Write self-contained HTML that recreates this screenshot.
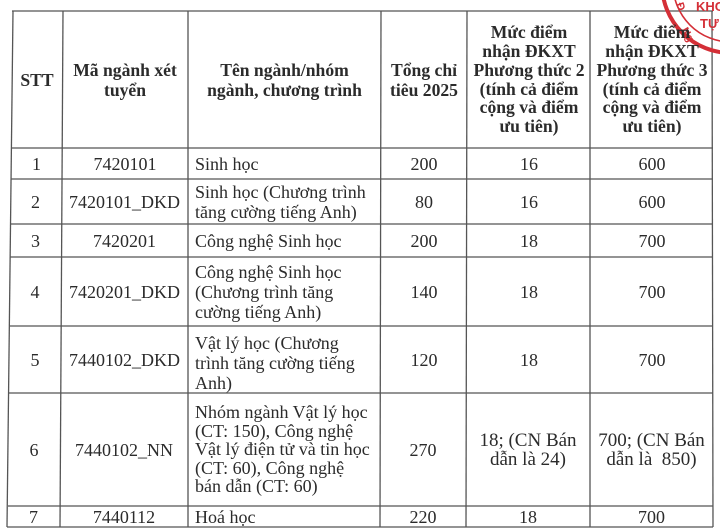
<!DOCTYPE html>
<html>
<head>
<meta charset="utf-8">
<style>
  html,body{margin:0;padding:0;background:#fff;}
  body{width:720px;height:530px;position:relative;overflow:hidden;
       font-family:"Liberation Serif","Noto Serif CJK SC",serif;color:#2b2b2b;}
  .c{position:absolute;display:flex;align-items:center;justify-content:center;
     text-align:center;font-size:18px;line-height:20px;box-sizing:border-box;}
  .l{justify-content:flex-start;text-align:left;padding-left:7px;}
  .h{font-weight:bold;font-size:17.6px;}
  .t{filter:blur(0.25px);}
</style>
</head>
<body>
<svg width="720" height="530" style="position:absolute;left:0;top:0" xmlns="http://www.w3.org/2000/svg">
  <g stroke="#555" stroke-width="1.3" fill="none">
    <line x1="12" y1="11" x2="713" y2="11"/>
    <line x1="11" y1="148" x2="713" y2="148"/>
    <line x1="11" y1="179" x2="713" y2="179"/>
    <line x1="10" y1="224" x2="713" y2="224"/>
    <line x1="10" y1="257" x2="713" y2="257"/>
    <line x1="9" y1="326" x2="713" y2="326"/>
    <line x1="9" y1="393" x2="713" y2="393"/>
    <line x1="8" y1="506" x2="713" y2="506"/>
    <line x1="7" y1="527" x2="713" y2="527"/>
    <line x1="13" y1="11" x2="7" y2="527"/>
    <line x1="63" y1="11" x2="60" y2="527"/>
    <line x1="188" y1="11" x2="188" y2="527"/>
    <line x1="381" y1="11" x2="380" y2="527"/>
    <line x1="467" y1="11" x2="466" y2="527"/>
    <line x1="590" y1="11" x2="590" y2="527"/>
    <line x1="712" y1="11" x2="713" y2="527"/>
  </g>
  <g stroke="#d42f37" fill="none">
    <circle cx="731" cy="-16" r="69" stroke-width="4"/>
    <circle cx="731" cy="-16" r="58" stroke-width="1.6"/>
  </g>
  <g fill="#d42f37" font-family="Liberation Sans, sans-serif" font-weight="bold">
    <text x="696" y="11" font-size="13">KHO</text>
    <text x="700" y="28" font-size="13">TỰ</text>
    <text x="0" y="0" font-size="11" transform="translate(681,30) rotate(60)">Ng</text>
    <text x="0" y="0" font-size="11" transform="translate(676,4) rotate(70)">Đ</text>
  </g>
</svg>

<div class="t">
<div class="c h" style="left:12px;top:11px;width:50px;height:137px;">STT</div>
<div class="c h" style="left:62px;top:11px;width:126px;height:137px;">Mã ngành xét<br>tuyển</div>
<div class="c h" style="left:188px;top:11px;width:193px;height:137px;">Tên ngành/nhóm<br>ngành, chương trình</div>
<div class="c h" style="left:381px;top:11px;width:86px;height:137px;">Tổng chỉ<br>tiêu 2025</div>
<div class="c h" style="left:467px;top:11px;width:124px;height:137px;line-height:18.8px;">Mức điểm<br>nhận ĐKXT<br>Phương thức 2<br>(tính cả điểm<br>cộng và điểm<br>ưu tiên)</div>
<div class="c h" style="left:591px;top:11px;width:122px;height:137px;line-height:18.8px;">Mức điểm<br>nhận ĐKXT<br>Phương thức 3<br>(tính cả điểm<br>cộng và điểm<br>ưu tiên)</div>

<div class="c" style="left:11px;top:148px;width:51px;height:31px;">1</div>
<div class="c" style="left:62px;top:148px;width:126px;height:31px;">7420101</div>
<div class="c l" style="left:188px;top:148px;width:193px;height:31px;">Sinh học</div>
<div class="c" style="left:381px;top:148px;width:86px;height:31px;">200</div>
<div class="c" style="left:467px;top:148px;width:124px;height:31px;">16</div>
<div class="c" style="left:591px;top:148px;width:122px;height:31px;">600</div>

<div class="c" style="left:10px;top:179px;width:51px;height:45px;">2</div>
<div class="c" style="left:61px;top:179px;width:127px;height:45px;">7420101_DKD</div>
<div class="c l" style="left:188px;top:179px;width:193px;height:45px;">Sinh học (Chương trình<br>tăng cường tiếng Anh)</div>
<div class="c" style="left:381px;top:179px;width:86px;height:45px;">80</div>
<div class="c" style="left:467px;top:179px;width:124px;height:45px;">16</div>
<div class="c" style="left:591px;top:179px;width:122px;height:45px;">600</div>

<div class="c" style="left:10px;top:224px;width:51px;height:33px;">3</div>
<div class="c" style="left:61px;top:224px;width:127px;height:33px;">7420201</div>
<div class="c l" style="left:188px;top:224px;width:193px;height:33px;">Công nghệ Sinh học</div>
<div class="c" style="left:381px;top:224px;width:86px;height:33px;">200</div>
<div class="c" style="left:467px;top:224px;width:124px;height:33px;">18</div>
<div class="c" style="left:591px;top:224px;width:122px;height:33px;">700</div>

<div class="c" style="left:9px;top:257px;width:52px;height:69px;">4</div>
<div class="c" style="left:61px;top:257px;width:127px;height:69px;">7420201_DKD</div>
<div class="c l" style="left:188px;top:257px;width:193px;height:69px;">Công nghệ Sinh học<br>(Chương trình tăng<br>cường tiếng Anh)</div>
<div class="c" style="left:381px;top:257px;width:86px;height:69px;">140</div>
<div class="c" style="left:467px;top:257px;width:124px;height:69px;">18</div>
<div class="c" style="left:591px;top:257px;width:122px;height:69px;">700</div>

<div class="c" style="left:9px;top:326px;width:52px;height:67px;">5</div>
<div class="c" style="left:61px;top:326px;width:127px;height:67px;">7440102_DKD</div>
<div class="c l" style="left:188px;top:329px;width:193px;height:67px;">Vật lý học (Chương<br>trình tăng cường tiếng<br>Anh)</div>
<div class="c" style="left:381px;top:326px;width:86px;height:67px;">120</div>
<div class="c" style="left:467px;top:326px;width:124px;height:67px;">18</div>
<div class="c" style="left:591px;top:326px;width:122px;height:67px;">700</div>

<div class="c" style="left:8px;top:393px;width:52px;height:113px;">6</div>
<div class="c" style="left:60px;top:393px;width:128px;height:113px;">7440102_NN</div>
<div class="c l" style="left:188px;top:393px;width:193px;height:113px;line-height:18.4px;">Nhóm ngành Vật lý học<br>(CT: 150), Công nghệ<br>Vật lý điện tử và tin học<br>(CT: 60), Công nghệ<br>bán dẫn (CT: 60)</div>
<div class="c" style="left:380px;top:393px;width:86px;height:113px;">270</div>
<div class="c" style="left:466px;top:393px;width:124px;height:113px;line-height:19px;font-size:19px;">18; (CN Bán<br>dẫn là 24)</div>
<div class="c" style="left:590px;top:393px;width:123px;height:113px;line-height:19px;font-size:19px;">700; (CN Bán<br>dẫn là&nbsp; 850)</div>

<div class="c" style="left:7px;top:506px;width:53px;height:21px;">7</div>
<div class="c" style="left:60px;top:506px;width:128px;height:21px;">7440112</div>
<div class="c l" style="left:188px;top:506px;width:193px;height:21px;">Hoá học</div>
<div class="c" style="left:380px;top:506px;width:86px;height:21px;">220</div>
<div class="c" style="left:466px;top:506px;width:124px;height:21px;">18</div>
<div class="c" style="left:590px;top:506px;width:123px;height:21px;">700</div>
</div>
</body>
</html>
